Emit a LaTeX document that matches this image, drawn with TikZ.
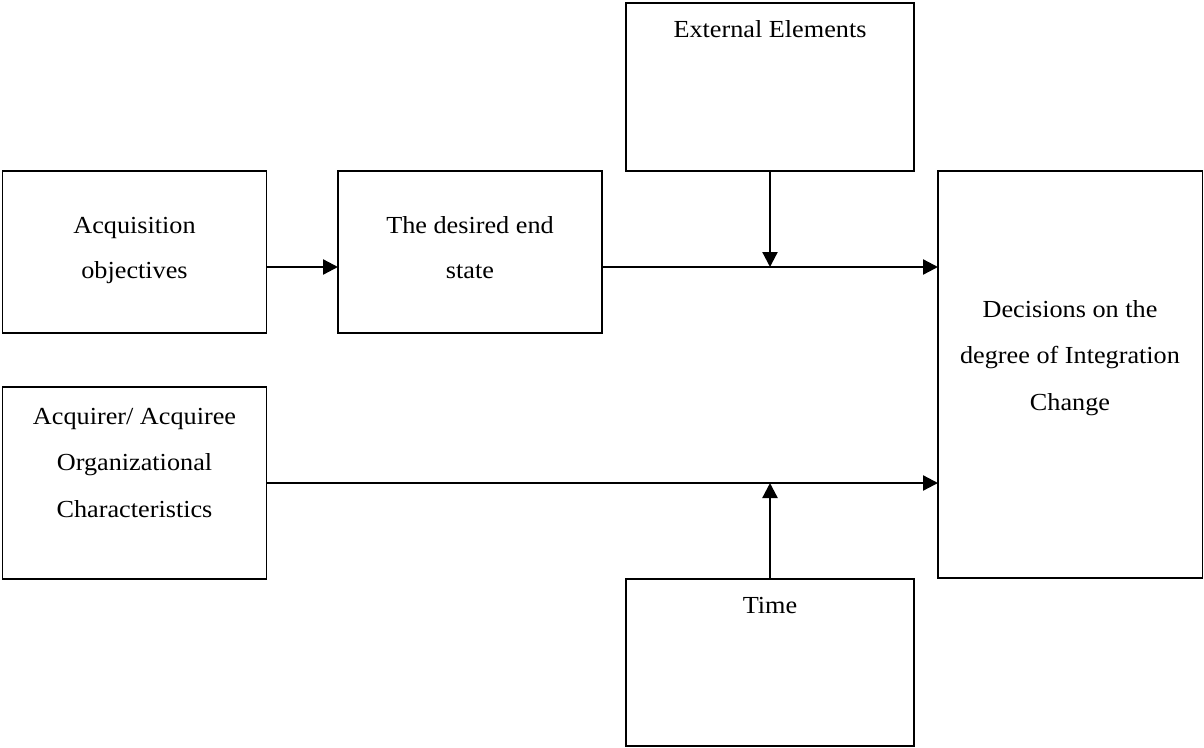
\documentclass[tikz,border=0pt]{standalone}
\usepackage{fontspec}
\setmainfont{Liberation Serif}
\usetikzlibrary{arrows.meta}
\newcommand{\hs}[1]{\scalebox{1.07}[1]{#1}}
\begin{document}
\begin{tikzpicture}[x=1pt,y=-1pt,
  box/.style={draw, line width=1.5pt, inner sep=0pt, outer sep=0pt, anchor=north west},
  txt/.style={anchor=base, inner sep=0pt, font=\fontsize{24.5}{29}\selectfont},
  conn/.style={line width=2.3pt, -{Triangle[length=15pt,width=15pt]}}]
\useasboundingbox (0,0) rectangle (1204,747);
\coordinate (y1) at (0,267);
\coordinate (y2) at (0,483);
% boxes
\node[box, minimum width=264pt, minimum height=162pt] (acq) at (2.5,171) {};
\node[box, minimum width=264pt, minimum height=162pt] (des) at (338,171) {};
\node[box, minimum width=288pt, minimum height=168pt] (ext) at (626,3) {};
\node[box, minimum width=264.5pt, minimum height=407pt] (dec) at (938,171) {};
\node[box, minimum width=264pt, minimum height=192pt] (org) at (2.5,387) {};
\node[box, minimum width=288pt, minimum height=167pt] (time) at (626,579) {};
% texts
\node[txt] (acqa) at (134.5,233) {\hs{Acquisition}};
\node[txt] (acqb) at (134.5,278) {\hs{objectives}};
\node[txt] (desa) at (470,233) {\hs{The desired end}};
\node[txt] (desb) at (470,278) {\hs{state}};
\node[txt] (exta) at (770,37) {\hs{External Elements}};
\node[txt] (deca) at (1070,317) {\hs{Decisions on the}};
\node[txt] (decb) at (1070,363) {\hs{degree of Integration}};
\node[txt] (decc) at (1070,410) {\hs{Change}};
\node[txt] (orga) at (134.5,424) {\hs{Acquirer/ Acquiree}};
\node[txt] (orgb) at (134.5,470) {\hs{Organizational}};
\node[txt] (orgc) at (134.5,517) {\hs{Characteristics}};
\node[txt] (timea) at (770,613) {\hs{Time}};
% connectors
\draw[conn] (acq.east |- y1) -- (des.west |- y1);
\draw[conn] (des.east |- y1) -- (dec.west |- y1);
\draw[conn] (ext.south) -- (ext.south |- y1);
\draw[conn] (org.east |- y2) -- (dec.west |- y2);
\draw[conn] (time.north) -- (time.north |- y2);
\end{tikzpicture}
\end{document}
